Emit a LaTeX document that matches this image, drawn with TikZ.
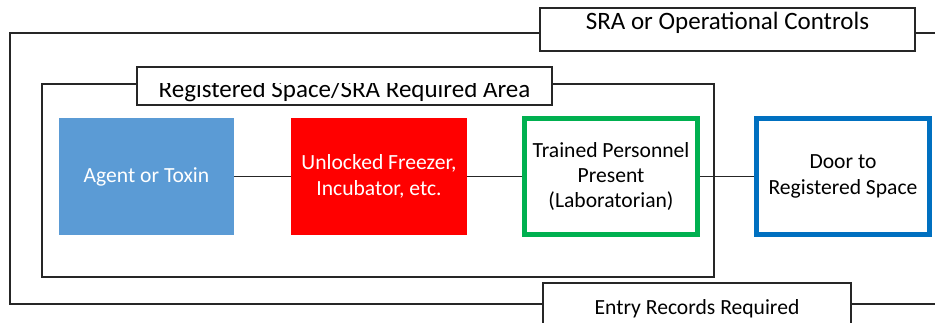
\documentclass[tikz,border=0pt]{standalone}
\usepackage{fontspec}
\setmainfont{Carlito}
\usetikzlibrary{positioning}

\definecolor{agentblue}{HTML}{5B9BD5}
\definecolor{lockred}{HTML}{FF0000}
\definecolor{staffgreen}{HTML}{00B050}
\definecolor{doorblue}{HTML}{0070C0}

\begin{document}
\begin{tikzpicture}[x=0.75pt,y=-0.75pt]
	\tikzset{frame/.style = {draw=black!85, line width=1.2pt}}
	\tikzset{edge/.style = {draw=black!85, line width=1.2pt}}
	\tikzset{tagbox/.style = {shape=rectangle, draw=black!85, line width=1.1pt,
			fill=white, inner sep=0pt}}
	\tikzset{tagfont/.style = {font=\fontsize{18.75}{22}\selectfont}}
	\tikzset{item/.style = {shape=rectangle, align=center, inner sep=0pt,
			font=\fontsize{16.2}{19}\selectfont}}
	\tikzset{solid item/.style = {item, text=white, minimum height=87.75pt}}
	\tikzset{ring item/.style = {item, fill=white, line width=3.75pt,
			minimum width=129.75pt, minimum height=87pt}}

	\useasboundingbox (0,0) rectangle (935,322);

	% frame corners
	\coordinate (otl) at (10,33);
	\coordinate (obl) at (10,304);
	\coordinate (otr) at (935,33);
	\coordinate (obr) at (935,304);
	\coordinate (itl) at (42,84);
	\coordinate (ibl) at (42,277);
	\coordinate (ibr) at (714,277);
	\coordinate (itr) at (714,84);

	% tag boxes on the frames
	\node[tagbox, minimum width=281.25pt, minimum height=32.25pt] (sra) at (727.5,29.5) {};
	\node[tagfont, anchor=base] (sratext) at (727.5,29) {SRA or Operational Controls};
	\node[tagbox, minimum width=311.25pt, minimum height=28.5pt] (reg) at (344.5,86) {};
	\begin{scope}
		\clip (137,83) rectangle (552,105);
		\node[tagfont, anchor=base] (regtext) at (344.5,97) {Registered Space/SRA Required Area};
	\end{scope}
	\node[tagbox, item, minimum width=231pt, minimum height=38.25pt] (entry) at (697,308.5)
		{Entry Records Required};

	% frames
	\draw[frame] (sra.west |- otl) -- (otl) -- (obl) -- (entry.west |- obl);
	\draw[frame] (sra.east |- otr) -- (otr);
	\draw[frame] (entry.east |- obr) -- (obr);
	\draw[frame] (reg.west |- itl) -- (itl) -- (ibl) -- (ibr) -- (itr) -- (reg.east |- itr);

	% items
	\node[solid item, fill=agentblue, minimum width=131.25pt] (agent) at (146.5,176.5) {Agent or Toxin};
	\node[solid item, fill=lockred, minimum width=132pt] (freezer) at (379,176.5)
		{Unlocked Freezer,\\Incubator, etc.};
	\node[ring item, draw=staffgreen] (staff) at (611,176.5)
		{Trained Personnel\\Present\\(Laboratorian)};
	\node[ring item, draw=doorblue] (door) at (843,176.5)
		{Door to\\Registered Space};

	%edges
	\draw[edge] (agent) -- (freezer);
	\draw[edge] (freezer) -- (staff);
	\draw[edge] (staff) -- (door);
\end{tikzpicture}
\end{document}
